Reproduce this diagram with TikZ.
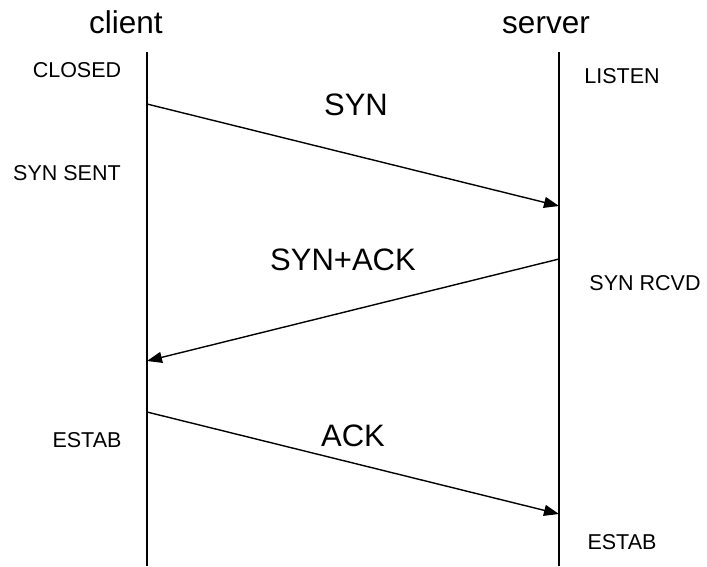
\documentclass[tikz,border=0pt]{standalone}
\usepackage{fontspec}
\setmainfont{Liberation Sans}
\usetikzlibrary{arrows.meta}
\begin{document}
\begin{tikzpicture}[x=1pt,y=-1pt,
  lifeline/.style={line width=1.4pt},
  msg/.style={line width=1.4pt,-{Triangle[length=15pt,width=11pt]}},
  head/.style={font=\fontsize{31.5}{33}\selectfont,anchor=base,inner sep=0pt},
  statelbl/.style={font=\fontsize{21.5}{24}\selectfont,inner sep=0pt},
  msglbl/.style={font=\fontsize{31}{33}\selectfont,inner sep=0pt}]
\useasboundingbox (0,0) rectangle (707,566);
% lifelines
\coordinate (ctop) at (147,52);
\coordinate (cbot) at (147,566);
\coordinate (stop) at (559,52);
\coordinate (sbot) at (559,566);
\draw[lifeline] (ctop) -- (cbot);
\draw[lifeline] (stop) -- (sbot);
% headers
\node[head] (client) at (126,33) {client};
\node[head] (server) at (546,33) {server};
% states
\node[statelbl] (closed) at (77,70) {CLOSED};
\node[statelbl] (synsent) at (67,173) {SYN SENT};
\node[statelbl] (estabc) at (87,440) {ESTAB};
\node[statelbl] (listen) at (622,76) {LISTEN};
\node[statelbl] (synrcvd) at (645,283) {SYN RCVD};
\node[statelbl] (estabs) at (622,542) {ESTAB};
% message endpoints
\coordinate (syn1) at (147,104);
\coordinate (syn2) at (559,206);
\coordinate (sa1) at (559,259);
\coordinate (sa2) at (147,361);
\coordinate (ack1) at (147,412);
\coordinate (ack2) at (559,514);
\draw[msg] (syn1) -- (syn2);
\draw[msg] (sa1) -- (sa2);
\draw[msg] (ack1) -- (ack2);
% message labels
\node[msglbl] (synl) at (356,105) {SYN};
\node[msglbl] (sal) at (343,260) {SYN+ACK};
\node[msglbl] (ackl) at (353,436) {ACK};
\end{tikzpicture}
\end{document}
